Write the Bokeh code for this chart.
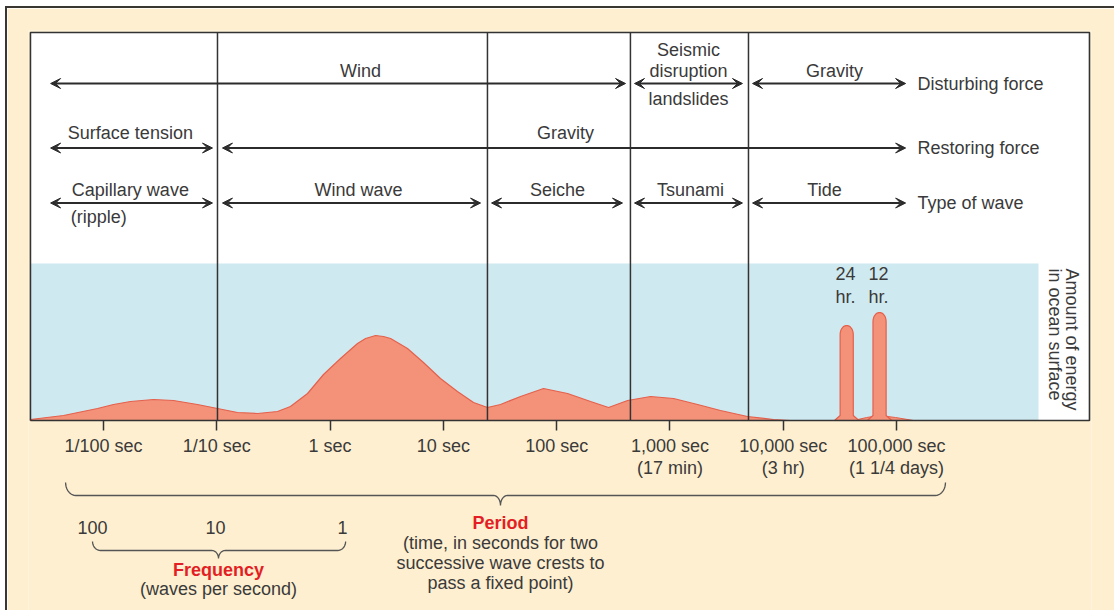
import numpy as np
from bokeh.plotting import figure
from bokeh.models import Range1d, Label, Arrow, VeeHead, FixedTicker
from bokeh.embed import file_html
from bokeh.resources import INLINE

# ---------------- data (x = log10 of wave period in seconds) ----------------
energy_log_period = [-2.645, -2.353, -2.053, -1.912, -1.762, -1.559, -1.383, -1.171, -0.994,
                     -0.817, -0.641, -0.464, -0.350, -0.199, -0.058, 0.092, 0.242, 0.313, 0.401,
                     0.472, 0.534, 0.683, 0.824, 0.974, 1.124, 1.266, 1.389, 1.504, 1.681, 1.884,
                     2.096, 2.299, 2.458, 2.626, 2.829, 3.032, 3.244, 3.446, 3.684, 3.914, 4.064]
energy_level = [1, 5, 12, 16, 19, 21, 20, 16, 12,
                8, 7, 9, 14, 27, 46, 62, 77, 82, 85,
                84, 82, 72, 58, 42, 29, 18, 13, 16, 24, 32,
                27, 19, 13, 20, 24, 22, 16, 10, 4, 1, 0]

tide_log_period = [4.56, 4.85]          # 24 hr and 12 hr tide peaks (as drawn)
tide_level = [95, 108]
tide_top_text = ["24", "12"]
tide_bottom_text = ["hr.", "hr."]
tide_hump_log = [4.621, 4.736, 4.850, 4.991, 5.150]
tide_hump_level = [0, 3, 5, 3, 0]

tick_log_period = [-2, -1, 0, 1, 2, 3, 4, 5]
tick_labels = ["1/100 sec", "1/10 sec", "1 sec", "10 sec", "100 sec",
               "1,000 sec\n(17 min)", "10,000 sec\n(3 hr)", "100,000 sec\n(1 1/4 days)"]

boundary_log = [-0.994, 1.389, 2.651, 3.693]

disturbing_start = [-2.467, 2.687, 3.729]
disturbing_end = [2.608, 3.640, 5.080]
restoring_start = [-2.467, -0.950]
restoring_end = [-1.038, 5.080]
restoring_names = ["Surface tension", "Gravity"]
wave_start = [-2.467, -0.950, 1.425, 2.687, 3.729]
wave_end = [-1.038, 1.328, 2.581, 3.640, 5.080]
wave_names = ["Capillary wave", "Wind wave", "Seiche", "Tsunami", "Tide"]
row_titles = ["Disturbing force", "Restoring force", "Type of wave"]

freq_labels = ["100", "10", "1"]
freq_log_pos = [-2.097, -1.011, 0.110]

# ---------------- styling ----------------
FONT = "Liberation Sans"
FS = "18px"
TXT = "#3a3a3a"
RED = "#e31e24"
CREAM = "#feefd0"
BLUE = "#cfe9f0"
SALMON = "#f39279"
EDGE = "#e5604c"
DARK = "#2b2b2b"

X0, X1 = -2.6622, 6.7208      # frame spans a little beyond the white box
BOX_L, BOX_R, BOX_T = -2.645, 6.703, 388
W, H = 1107, 602
p = figure(width=W, height=H, output_backend="svg", toolbar_location=None,
           x_range=Range1d(X0, X1), y_range=Range1d(-190, 390),
           y_axis_location=None, min_border_left=21, min_border_right=23,
           min_border_top=22, min_border_bottom=0,
           background_fill_color=CREAM, border_fill_color=CREAM)
p.margin = (8, 0, 0, 7)
p.styles = {"outline": "2px solid #3a3632"}
p.outline_line_color = None
for g in p.grid:
    g.visible = False

ax = p.xaxis[0]
ax.fixed_location = 0
ax.ticker = FixedTicker(ticks=tick_log_period)
ax.major_label_overrides = {t: l for t, l in zip(tick_log_period, tick_labels)}
ax.axis_line_color = None
ax.major_tick_in = 0
ax.major_tick_out = 10
ax.major_tick_line_color = "#333333"
ax.major_tick_line_width = 1.5
ax.minor_tick_line_color = None
ax.major_label_standoff = 5
ax.major_label_text_font = FONT
ax.major_label_text_font_size = FS
ax.major_label_text_color = TXT
ax.major_label_text_line_height = 1.1

# white box and ocean-surface band
p.quad(left=[BOX_L], right=[BOX_R], bottom=[0], top=[BOX_T], fill_color="white",
       line_color=None)
p.quad(left=[BOX_L], right=[6.253], bottom=[0], top=[157], fill_color=BLUE, line_color=None)

# energy spectrum
xs = [energy_log_period[0]] + energy_log_period + [energy_log_period[-1]]
ys = [0] + energy_level + [0]
p.patch(xs, ys, fill_color=SALMON, line_color=EDGE, line_width=1.2)

# tide hump and peaks
p.patch(tide_hump_log, tide_hump_level, fill_color=SALMON, line_color=EDGE, line_width=1)
hw, rr = 0.058, 9.0
for c, h in zip(tide_log_period, tide_level):
    t = np.linspace(0, np.pi, 14)
    px = [c - hw - 0.05, c - hw] + list(c - hw * np.cos(t)) + [c + hw, c + hw + 0.05]
    py = [0, 5] + list(h - rr + rr * np.sin(t)) + [5, 0]
    p.patch(px, py, fill_color=SALMON, line_color=EDGE, line_width=1.2)

# vertical boundaries
p.segment(x0=boundary_log, y0=[0] * len(boundary_log), x1=boundary_log,
          y1=[BOX_T] * len(boundary_log), line_color="#333333", line_width=1.5)
# box outline
p.line([BOX_L, BOX_R, BOX_R, BOX_L, BOX_L], [0, 0, BOX_T, BOX_T, 0],
       line_color="#333333", line_width=1.6)

def lab(x, y, text, align="center", color=TXT, style="normal", angle=0.0):
    p.add_layout(Label(x=x, y=y, text=text, text_align=align, text_baseline="middle",
                       text_font=FONT, text_font_size=FS, text_color=color,
                       text_font_style=style, angle=angle))

def arrows(starts, ends, y):
    for s, e in zip(starts, ends):
        p.add_layout(Arrow(x_start=s, y_start=y, x_end=e, y_end=y, line_color=DARK, line_width=2,
                           start=VeeHead(size=10, fill_color=DARK, line_color=DARK),
                           end=VeeHead(size=10, fill_color=DARK, line_color=DARK)))

ROW_Y = [337, 272.5, 217.5]
arrows(disturbing_start, disturbing_end, ROW_Y[0])
arrows(restoring_start, restoring_end, ROW_Y[1])
arrows(wave_start, wave_end, ROW_Y[2])

lab(0.268, 350, "Wind")
lab(3.163, 371, "Seismic")
lab(3.163, 350, "disruption")
lab(3.163, 322, "landslides")
lab(4.452, 350, "Gravity")
for x, n in zip([-1.763, 2.078], restoring_names):
    lab(x, 288, n)
for x, n in zip([-1.763, 0.251, 2.007, 3.181, 4.364], wave_names):
    lab(x, 231, n)
lab(-2.290, 204, "(ripple)", align="left")
for y, t in zip(ROW_Y, row_titles):
    lab(5.185, y, t, align="left")

for c, a, b in zip([4.550, 4.841], tide_top_text, tide_bottom_text):
    lab(c, 147, a)
    lab(c, 124, b)

lab(6.553, 152, "Amount of energy", align="left", angle=-np.pi / 2)
lab(6.403, 152, "in ocean surface", align="left", angle=-np.pi / 2)

# braces below the axis
def brace(x0, x1, xt, yl, ye, yt, r=0.09, rt=0.06):
    t = np.linspace(0, np.pi / 2, 10)
    bx, by = [], []
    bx += list(x0 + r - r * np.cos(t)); by += list(ye - (ye - yl) * np.sin(t))
    bx += [xt - rt]; by += [yl]
    bx += list(xt - rt + rt * np.sin(t)); by += list(yl - (yl - yt) * (1 - np.cos(t)))
    bx += list(xt + rt - rt * np.cos(t)); by += list(yl - (yl - yt) * (1 - np.sin(t)))
    bx += [x1 - r]; by += [yl]
    bx += list(x1 - r + r * np.sin(t)); by += list(yl + (ye - yl) * (1 - np.cos(t)))
    p.line(bx, by, line_color="#555555", line_width=1.3)

brace(-2.335, 5.432, 1.504, -75, -62, -85)
lab(1.504, -102, "Period", color=RED, style="bold")
lab(1.504, -122, "(time, in seconds for two")
lab(1.504, -142, "successive wave crests to")
lab(1.504, -162, "pass a fixed point)")

for x, t in zip(freq_log_pos, freq_labels):
    lab(x, -107, t)
brace(-2.097, 0.137, -0.985, -130, -121, -138, r=0.07)
lab(-0.985, -149, "Frequency", color=RED, style="bold")
lab(-0.985, -168, "(waves per second)")

open("out.html", "w").write(file_html(p, INLINE))
